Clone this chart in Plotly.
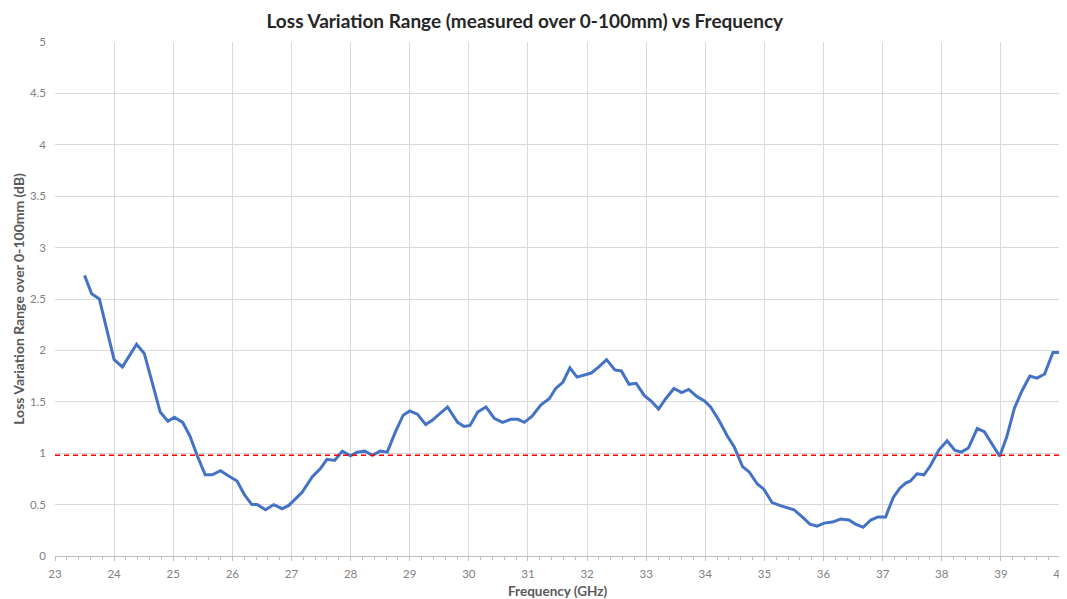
import plotly.graph_objects as go

# Frequency points (GHz) and measured loss variation range (dB)
freq_ghz = [
    23.5, 23.62, 23.75, 24.0, 24.14, 24.38, 24.51, 24.78, 24.91, 25.02,
    25.16, 25.28, 25.41, 25.54, 25.66, 25.8, 25.93, 26.08, 26.2, 26.33,
    26.42, 26.56, 26.7, 26.84, 26.95, 27.18, 27.35, 27.49, 27.6, 27.73,
    27.86, 28.0, 28.11, 28.24, 28.37, 28.5, 28.62, 28.76, 28.89, 29.0,
    29.13, 29.27, 29.38, 29.53, 29.64, 29.81, 29.92, 30.02, 30.15, 30.29,
    30.43, 30.57, 30.71, 30.83, 30.94, 31.07, 31.22, 31.36, 31.47, 31.59,
    31.71, 31.83, 31.96, 32.07, 32.2, 32.33, 32.47, 32.58, 32.71, 32.83,
    32.97, 33.08, 33.21, 33.33, 33.47, 33.6, 33.72, 33.86, 33.98, 34.09,
    34.23, 34.37, 34.49, 34.63, 34.74, 34.88, 34.99, 35.13, 35.27, 35.39,
    35.5, 35.64, 35.77, 35.89, 36.01, 36.15, 36.29, 36.43, 36.54, 36.67,
    36.8, 36.92, 37.05, 37.18, 37.29, 37.39, 37.47, 37.58, 37.7, 37.81,
    37.95, 38.09, 38.22, 38.33, 38.45, 38.6, 38.72, 38.85, 38.98, 39.1,
    39.23, 39.36, 39.49, 39.61, 39.74, 39.88, 40.0,
]
loss_range_db = [
    2.73, 2.55, 2.50, 1.91, 1.84, 2.06, 1.97, 1.40, 1.31, 1.35,
    1.30, 1.17, 0.97, 0.79, 0.79, 0.83, 0.78, 0.73, 0.60, 0.50,
    0.50, 0.45, 0.50, 0.46, 0.49, 0.62, 0.77, 0.85, 0.94, 0.93,
    1.02, 0.975, 1.01, 1.02, 0.98, 1.02, 1.01, 1.21, 1.37, 1.41,
    1.38, 1.28, 1.32, 1.39, 1.45, 1.30, 1.26, 1.27, 1.40, 1.45,
    1.34, 1.30, 1.33, 1.33, 1.30, 1.36, 1.47, 1.53, 1.63, 1.69,
    1.83, 1.74, 1.76, 1.78, 1.84, 1.91, 1.81, 1.80, 1.67, 1.68,
    1.56, 1.51, 1.43, 1.53, 1.63, 1.59, 1.62, 1.55, 1.51, 1.45,
    1.32, 1.17, 1.06, 0.87, 0.82, 0.70, 0.65, 0.52, 0.49, 0.47,
    0.45, 0.38, 0.31, 0.29, 0.32, 0.33, 0.36, 0.35, 0.31, 0.28,
    0.35, 0.38, 0.38, 0.57, 0.66, 0.71, 0.73, 0.80, 0.79, 0.88,
    1.03, 1.12, 1.03, 1.01, 1.05, 1.24, 1.21, 1.09, 0.97, 1.16,
    1.44, 1.61, 1.75, 1.73, 1.77, 1.98, 1.98,
]
threshold_db = 0.98

x_ticks = list(range(23, 41))
y_ticks = [0, 0.5, 1, 1.5, 2, 2.5, 3, 3.5, 4, 4.5, 5]

FONT = "Lato, 'Open Sans', Arial, sans-serif"
GRID = "#D9D9D9"
TICK_TEXT = "#808080"
LABEL = "#595959"

fig = go.Figure()
fig.add_trace(go.Scatter(
    x=freq_ghz, y=loss_range_db, mode="lines",
    line=dict(color="#4472C4", width=3),
    showlegend=False, hoverinfo="x+y",
))
fig.add_hline(y=threshold_db, line=dict(color="#FF0000", width=1.3, dash="5px,4px"))

# the page body has an 8px margin, so the figure is sized to fit inside it
fig.update_layout(
    width=1059, height=591,
    paper_bgcolor="white", plot_bgcolor="white",
    margin=dict(l=47, r=7, t=34, b=43, autoexpand=False),
    font=dict(family=FONT, size=11, color=TICK_TEXT),
    title=dict(
        text="<b>Loss Variation Range (measured over 0-100mm) vs Frequency</b>",
        x=0.488, xanchor="center", y=0.977, yanchor="middle",
        font=dict(family=FONT, size=19, color="#262626"),
    ),
)

# axis titles as annotations so the plot area stays where the reference has it
fig.add_annotation(
    text="<b>Frequency (GHz)</b>", xref="paper", yref="paper",
    x=0.5, y=-0.068, xanchor="center", yanchor="middle", showarrow=False,
    font=dict(family=FONT, size=13.5, color=LABEL),
)
fig.add_annotation(
    text="<b>Loss Variation Range over 0-100mm (dB)</b>", xref="paper", yref="paper",
    x=-0.037, y=0.5, xanchor="center", yanchor="middle", textangle=-90, showarrow=False,
    font=dict(family=FONT, size=14, color=LABEL),
)

fig.update_xaxes(
    range=[23, 40], tickvals=x_ticks, ticktext=[str(t) for t in x_ticks],
    showgrid=True, gridcolor=GRID, gridwidth=1, automargin=False,
    showline=True, linecolor="#BFBFBF", linewidth=1,
    ticks="outside", ticklen=4, tickcolor="#BFBFBF",
    minor=dict(dtick=0.2, ticks="outside", ticklen=3, tickcolor="#BFBFBF", showgrid=False),
    zeroline=False, ticklabeloverflow="allow", ticklabelstandoff=3,
    tickfont=dict(size=11.5, color=TICK_TEXT),
)
fig.update_yaxes(
    range=[0, 5], tickvals=y_ticks, ticktext=[f"{t:g}" for t in y_ticks],
    showgrid=True, gridcolor=GRID, gridwidth=1, automargin=False,
    zeroline=False, showline=False, ticks="", ticklabelstandoff=8,
    tickfont=dict(size=11.5, color=TICK_TEXT),
)

fig.write_html("out.html")
